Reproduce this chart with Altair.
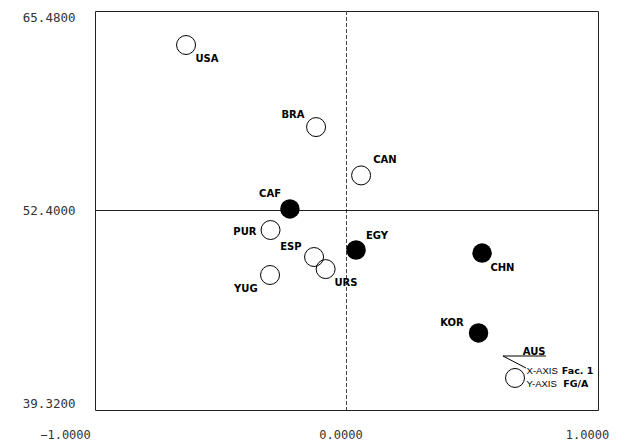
import altair as alt
import pandas as pd

# Countries, positions (Fac. 1 vs FG/A) and marker kind
codes = ["USA", "BRA", "CAN", "CAF", "PUR", "EGY", "ESP", "URS", "YUG", "CHN", "KOR", "AUS"]
fac1 = [-0.638, -0.121, 0.058, -0.225, -0.302, 0.038, -0.129, -0.083, -0.304, 0.539, 0.525, 0.670]
fga = [63.25, 57.87, 54.70, 52.50, 51.12, 49.81, 49.35, 48.56, 48.17, 49.61, 44.37, 41.42]
kind = ["open", "open", "open", "filled", "open", "filled", "open", "open", "open", "filled", "filled", "open"]

# Label anchor positions (data units)
label_x = [-0.555, -0.213, 0.153, -0.304, -0.404, 0.121, -0.221, -0.002, -0.400, 0.620, 0.419, 0.746]
label_y = [62.33, 58.66, 55.74, 53.48, 50.99, 50.73, 50.01, 47.65, 47.25, 48.60, 45.02, 43.12]

# Axis ticks
x_ticks = [-1.0, 0.0, 1.0]
y_ticks = [39.32, 52.40, 65.48]
x_center = 0.0
y_center = 52.40

# Annotation (axis key) near AUS
leader_x = [0.622, 0.622]
leader_y = [42.86, 42.86]
leader_x2 = [0.793, 0.714]
leader_y2 = [42.86, 42.07]
key_thin = ["X-AXIS", "Y-AXIS"]
key_bold = ["Fac. 1", "FG/A"]
key_thin_x = [0.716, 0.716]
key_bold_x = [0.856, 0.862]
key_y = [41.88, 41.02]

pts = pd.DataFrame({"code": codes, "x": fac1, "y": fga, "kind": kind,
                    "lx": label_x, "ly": label_y})
leaders = pd.DataFrame({"x": leader_x, "y": leader_y, "x2": leader_x2, "y2": leader_y2})
keys = pd.DataFrame({"thin": key_thin, "bold": key_bold, "tx": key_thin_x,
                     "bx": key_bold_x, "y": key_y})

xs = alt.Scale(domain=[-1, 1], nice=False, zero=False)
ys = alt.Scale(domain=[39.32, 65.48], nice=False, zero=False)

MONO = "DejaVu Sans Mono"

x_axis = alt.Axis(values=x_ticks, labelExpr="format(datum.value, '.4f')", title=None,
                  grid=False, ticks=False, domain=False, labelFont=MONO, labelFontSize=12,
                  labelColor="#333", labelPadding=19, labelFlush=False,
                  labelOffset={"condition": [{"test": "datum.value < -0.5", "value": -30},
                                             {"test": "datum.value > 0.5", "value": -11}],
                               "value": -6})
y_axis = alt.Axis(values=y_ticks, labelExpr="format(datum.value, '.4f')", title=None,
                  grid=False, ticks=False, domain=False, labelFont=MONO, labelFontSize=12.5,
                  labelColor="#333", labelPadding=20, labelFlush=True)

base = alt.Chart(pts)

vline = alt.Chart(pts).mark_rule(color="#444", strokeWidth=1, strokeDash=[4, 2]).encode(
    x=alt.datum(x_center, scale=xs, axis=x_axis))
hline = alt.Chart(pts).mark_rule(color="#222", strokeWidth=1).encode(
    y=alt.datum(y_center, scale=ys, axis=y_axis))

open_pts = base.transform_filter("datum.kind == 'open'").mark_point(
    shape="circle", size=360, filled=False, color="black", strokeWidth=1, opacity=1).encode(
    x=alt.X("x:Q", scale=xs, axis=x_axis), y=alt.Y("y:Q", scale=ys, axis=y_axis))
filled_pts = base.transform_filter("datum.kind == 'filled'").mark_point(
    shape="circle", size=380, filled=True, color="black", opacity=1).encode(
    x=alt.X("x:Q", scale=xs), y=alt.Y("y:Q", scale=ys))

labels = base.mark_text(font="DejaVu Sans", fontWeight="bold", fontSize=10, color="black",
                        align="center", baseline="middle").encode(
    x=alt.X("lx:Q", scale=xs), y=alt.Y("ly:Q", scale=ys), text="code:N")

leader = alt.Chart(leaders).mark_rule(color="black", strokeWidth=1).encode(
    x=alt.X("x:Q", scale=xs), y=alt.Y("y:Q", scale=ys),
    x2="x2:Q", y2="y2:Q")

key_t = alt.Chart(keys).mark_text(font="Liberation Sans", fontSize=9.5, color="black",
                                  align="left", baseline="middle").encode(
    x=alt.X("tx:Q", scale=xs), y=alt.Y("y:Q", scale=ys), text="thin:N")
key_b = alt.Chart(keys).mark_text(font="DejaVu Sans", fontWeight="bold", fontSize=9.5, color="black",
                                  align="left", baseline="middle").encode(
    x=alt.X("bx:Q", scale=xs), y=alt.Y("y:Q", scale=ys), text="bold:N")

chart = alt.layer(vline, hline, open_pts, filled_pts, labels, leader, key_t, key_b).properties(
    width=503, height=399,
    padding={"left": 87, "top": 3, "right": 13, "bottom": 30},
    autosize=alt.AutoSizeParams(type="none"),
    background="white",
).configure_view(stroke="#222", strokeWidth=1)

chart.save("out.html", embed_options={"renderer": "svg", "actions": False})
